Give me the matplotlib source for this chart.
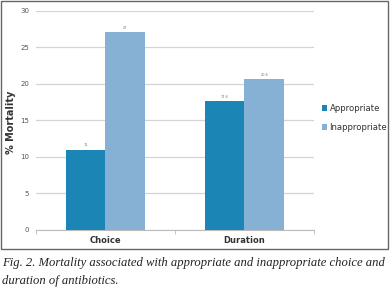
import matplotlib.pyplot as plt
from matplotlib.patches import Rectangle
import numpy as np

categories = ['Choice', 'Duration']
appropriate = [11, 17.6]
inappropriate = [27, 20.6]
labels_app = ['11', '17.6']
labels_inapp = ['27', '20.6']

fig = plt.figure(figsize=(3.9, 2.97), dpi=100)
ax = fig.add_axes([0.092, 0.2256, 0.713, 0.739])

x = np.arange(len(categories))
w = 0.285
b1 = ax.bar(x - w / 2, appropriate, w, color='#1b86b5', label='Appropriate', zorder=3)
b2 = ax.bar(x + w / 2, inappropriate, w, color='#86b0d4', label='Inappropriate', zorder=3)

for bars, labs in ((b1, labels_app), (b2, labels_inapp)):
    for r, t in zip(bars, labs):
        ax.text(r.get_x() + r.get_width() / 2, r.get_height() + 0.3, t,
                ha='center', va='bottom', fontsize=2.5, color='#777777')

ax.set_xlim(-0.5, 1.5)
ax.set_ylim(0, 30)
ax.set_yticks(range(0, 31, 5))
ax.tick_params(axis='y', length=0, labelsize=5, colors='#555555', pad=5)
ax.set_xticks(x)
ax.set_xticklabels(categories, fontsize=6, fontweight='bold', color='#333333')
ax.tick_params(axis='x', length=0, pad=4)
ax.set_xticks([-0.5, 0.5, 1.5], minor=True)
ax.tick_params(axis='x', which='minor', length=3, color='#bbbbbb', direction='out')
ax.grid(axis='y', color='#d4d4d4', linewidth=0.9, zorder=0)
for s in ['top', 'right', 'left']:
    ax.spines[s].set_visible(False)
ax.spines['bottom'].set_color('#bbbbbb')
ax.spines['bottom'].set_linewidth(0.8)
ax.set_ylabel('% Mortality', fontsize=7, fontweight='bold', color='#333333')
ax.yaxis.set_label_coords(-0.072, 0.49)

ax.legend(loc='center left', bbox_to_anchor=(1.015, 0.51), frameon=False, fontsize=6.1,
          handlelength=0.65, handleheight=0.65, handletextpad=0.3, labelspacing=1.2,
          labelcolor='#333333', borderaxespad=0)

fig.patches.append(Rectangle((0.003, 1 - 249 / 297), 0.992, 248 / 297, transform=fig.transFigure,
                             fill=False, edgecolor='#666666', linewidth=1.0))

fig.text(0.005, 1 - 263 / 297, 'Fig. 2. Mortality associated with appropriate and inappropriate choice and',
         fontsize=9.1, style='italic', family='Liberation Serif', va='center', color='#222222')
fig.text(0.005, 1 - 281 / 297, 'duration of antibiotics.',
         fontsize=9.1, style='italic', family='Liberation Serif', va='center', color='#222222')

fig.savefig('out.png', dpi=100)
